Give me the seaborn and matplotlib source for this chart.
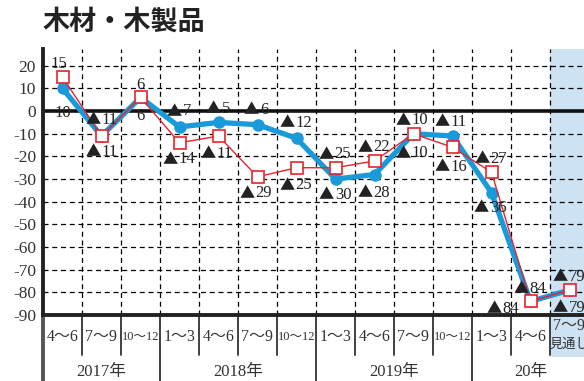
import matplotlib
matplotlib.use("Agg")
import matplotlib.pyplot as plt
import matplotlib.transforms as mtransforms
import pandas as pd
import seaborn as sns

# Quarter labels along the bottom (the last column is the outlook quarter)
periods = ["4～6", "7～9", "10～12", "1～3", "4～6", "7～9", "10～12",
           "1～3", "4～6", "7～9", "10～12", "1～3", "4～6", "7～9"]
years = ["2017年", "2018年", "2019年", "20年"]
year_first = [0, 3, 7, 11]
year_last = [2, 6, 10, 13]

# Business conditions DI: results (blue) and previous outlook (red)
actual = [10, -11, 6, -7, -5, -6, -12, -30, -28, -10, -11, -36, -84, -79]
outlook = [15, -11, 6, -14, -11, -29, -25, -25, -22, -10, -16, -27, -84, -79]

y_ticks = [20, 10, 0, -10, -20, -30, -40, -50, -60, -70, -80, -90]

# where each value label is centred relative to its point (pixels)
actual_offsets = [(0, -23), (1, -14), (0, -17), (0, 17), (0, 15), (-1, 16), (0, 17),
                  (0, -14), (0, -17), (-1, -18), (-1, 16), (-1, -14), (-27, -6), (0, -16)]
outlook_offsets = [(-4, 15), (1, 18), (0, 14), (0, -15), (-1, -16), (-1, -15), (0, -16),
                   (0, 15), (0, 15), (-1, 15), (-1, -18), (0, 15), (0, 14), (0, 15)]

BLUE = "#1a9ad8"
RED = "#e8222c"
SHADE = "#cde3f3"
INK = "#222222"

sns.set_style("white")
plt.rcParams["font.family"] = ["Liberation Serif", "Noto Sans CJK JP", "DejaVu Sans"]

fig = plt.figure(figsize=(5.84, 3.81), dpi=100)
W, H = 584, 381
ax = fig.add_axes([43 / W, 1 - 315 / H, 546 / W, (315 - 49) / H])
ax.set_xlim(-0.5, len(periods) - 0.5)
ax.set_ylim(-90, 27.4)

n = len(periods)
df = pd.DataFrame({"pos": range(n), "actual": actual, "outlook": outlook})

# outlook column shading (extends through the tick-label row)
trans = mtransforms.blended_transform_factory(ax.transData, ax.transAxes)
ax.add_patch(plt.Rectangle((n - 1.5, -0.158), 1.0, 1.158, transform=trans,
                           facecolor=SHADE, edgecolor="none", clip_on=False, zorder=0))

# dashed grid
for yv in y_ticks:
    if yv not in (0, -90):
        ax.axhline(yv, color="black", lw=0.9, ls=(0, (4, 3)), zorder=1)
for i in range(n - 1):
    ax.axvline(i + 0.5, color="black", lw=0.9, ls=(0, (4, 3)), zorder=1)
ax.axhline(0, color="#111111", lw=2.6, zorder=2)

sns.lineplot(data=df, x="pos", y="actual", ax=ax, color=BLUE, lw=3.8,
             marker="o", markersize=9, markeredgewidth=0, zorder=3)
sns.lineplot(data=df, x="pos", y="outlook", ax=ax, color=RED, lw=1.0,
             marker="s", markersize=9, markerfacecolor="white",
             markeredgecolor=RED, markeredgewidth=1.2, zorder=4)

TRI_W = 15.0    # advance of the ▲ sign, pixels
DIGIT_W = 8.3   # width of one digit, pixels


def value_label(x, v, dx, dy):
    digits = str(abs(v))
    base = dy - 5.5
    if v < 0:
        total = TRI_W + DIGIT_W * len(digits)
        left = dx - total / 2
        ax.annotate("▲", (x, v), xytext=(left - 1, base - 0.5), textcoords="offset pixels",
                    ha="left", va="baseline", fontsize=11, family=["Noto Sans CJK JP"],
                    color=INK, zorder=5, annotation_clip=False)
        ax.annotate(digits, (x, v), xytext=(left + TRI_W, base), textcoords="offset pixels",
                    ha="left", va="baseline", fontsize=12, color=INK, zorder=5,
                    annotation_clip=False)
    else:
        ax.annotate(digits, (x, v), xytext=(dx, base), textcoords="offset pixels",
                    ha="center", va="baseline", fontsize=12, color=INK, zorder=5,
                    annotation_clip=False)


for i in range(n):
    value_label(i, actual[i], *actual_offsets[i])
    value_label(i, outlook[i], *outlook_offsets[i])

# axes frame
for s in ("top", "right"):
    ax.spines[s].set_visible(False)
for s in ("bottom", "left"):
    ax.spines[s].set_linewidth(2.8)
    ax.spines[s].set_color(INK)
ax.set_xlabel("")
ax.set_ylabel("")
ax.set_xticks([])
ax.set_yticks(y_ticks)
ax.set_yticklabels([str(v) for v in y_ticks], fontsize=12.5, color="#333333")
ax.tick_params(axis="y", length=0, pad=5)

# left rule continues down through the label rows
ax.plot([-0.5, -0.5], [0, -0.25], transform=trans, color="#555555", lw=2.8,
        clip_on=False, solid_capstyle="butt")

# quarter row separators and year separators
year_bounds = [b + 0.5 for b in year_last[:-1]]
for i in range(n - 1):
    b = i + 0.5
    depth = -0.25 if b in year_bounds else -0.15
    ax.plot([b, b], [0, depth], transform=trans, color="#333333", lw=1.3, clip_on=False)

for i, p in enumerate(periods):
    small = p.startswith("10")
    if i == n - 1:
        ax.text(i, -0.04, p, transform=trans, ha="center", va="center", fontsize=11.5,
                color="#333333")
        ax.text(i, -0.11, "見通し", transform=trans, ha="center", va="center", fontsize=9.5,
                color="#333333")
    else:
        ax.text(i, -0.083, p, transform=trans, ha="center", va="center",
                fontsize=9 if small else 11.5, color="#333333")

for lab, a, b in zip(years, year_first, year_last):
    ax.text((a + b) / 2, -0.215, lab, transform=trans, ha="center", va="center",
            fontsize=12, color="#333333")

fig.text(43 / W, 1 - 22 / H, "木材・木製品", fontsize=19.5, fontweight="bold",
         family=["Noto Sans CJK JP"], ha="left", va="center", color=INK)

fig.savefig("out.png", dpi=100)
